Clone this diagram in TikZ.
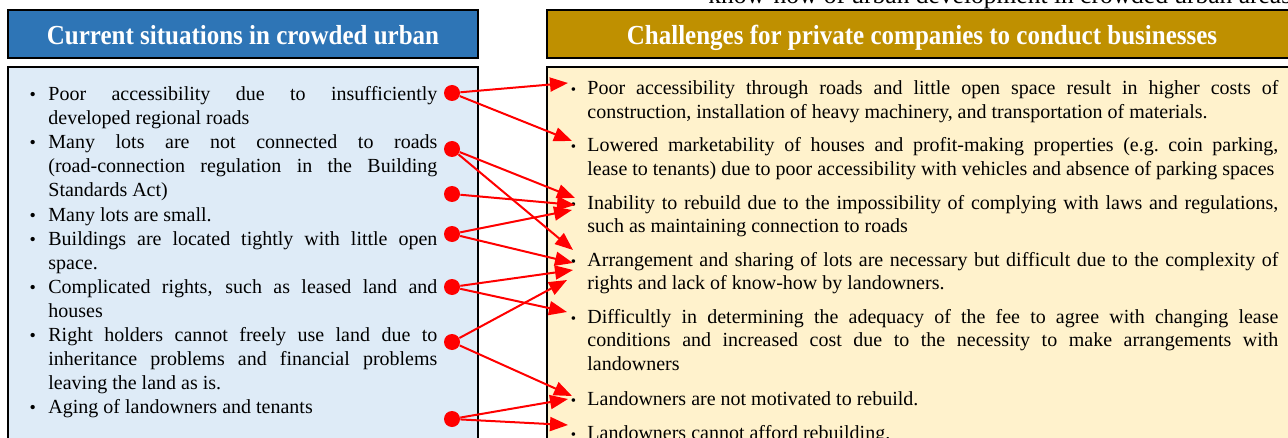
\documentclass[tikz,border=0pt]{standalone}
\usepackage{fontspec}
\setmainfont{Liberation Serif}
\usetikzlibrary{arrows.meta}

\definecolor{headblue}{HTML}{2E75B6}
\definecolor{bodyblue}{HTML}{DEEBF7}
\definecolor{headgold}{HTML}{BF9000}
\definecolor{bodygold}{HTML}{FFF2CC}

\newcommand{\lbul}{\llap{\fontsize{9}{9}\selectfont\textbullet\hspace{6.2pt}}}
\newcommand{\rbul}{\llap{\fontsize{7.5}{7.5}\selectfont\textbullet\hspace{5.6pt}}}

\begin{document}
\begin{tikzpicture}[x=0.5pt, y=-0.5pt,
	headtext/.style={text=white, inner sep=0pt, anchor=base, font=\fontsize{12.5}{14}\selectfont\bfseries},
	leftitem/.style={anchor=base west, inner sep=0pt, text width=194.5pt, align=justify, font=\fontsize{10}{12}\selectfont},
	rightitem/.style={anchor=base west, inner sep=0pt, text width=345.5pt, align=justify, font=\fontsize{10}{11.75}\selectfont},
	reddot/.style={circle, fill=red, inner sep=0pt, minimum size=8pt},
	link/.style={red, line width=1pt, -{Triangle[length=9pt, width=7pt]}}]

	\useasboundingbox (0,0) rectangle (1288,438);
	\clip (0,0) rectangle (1288,438);

	\node [anchor=base west, inner sep=0pt, font=\fontsize{12.75}{14}\selectfont] (toptext) at (708,4) {know-how of urban development in crowded urban areas};

	\draw [line width=1pt, fill=headblue] (8,10) rectangle (478,58);
	\draw [line width=1pt, fill=bodyblue] (8,67) rectangle (478,450);
	\draw [line width=1pt, fill=headgold] (547,10) rectangle (1297,58);
	\draw [line width=1pt, fill=bodygold] (547,67) rectangle (1297,450);

	\node [headtext] (lefthead) at (243,45) {\scalebox{1}[1.1]{Current situations in crowded urban}};
	\node [headtext] (righthead) at (922,45) {\scalebox{1}[1.1]{Challenges for private companies to conduct businesses}};

	\node [leftitem] (s1) at (48,101) {\lbul Poor accessibility due to insufficiently\linebreak developed regional roads};
	\node [leftitem] (s2) at (48,149) {\lbul Many lots are not connected to roads\linebreak (road-connection regulation in the Building\linebreak Standards Act)};
	\node [leftitem] (s3) at (48,221) {\lbul Many lots are small.};
	\node [leftitem] (s4) at (48,245) {\lbul Buildings are located tightly with little open\linebreak space.};
	\node [leftitem] (s5) at (48,293) {\lbul Complicated rights, such as leased land and\linebreak houses};
	\node [leftitem] (s6) at (48,341) {\lbul Right holders cannot freely use land due to\linebreak inheritance problems and financial problems\linebreak leaving the land as is.};
	\node [leftitem] (s7) at (48,413) {\lbul Aging of landowners and tenants};

	\node [rightitem] (c1) at (587,95) {\rbul Poor accessibility through roads and little open space result in higher costs of\linebreak construction, installation of heavy machinery, and transportation of materials.};
	\node [rightitem] (c2) at (587,152) {\rbul Lowered marketability of houses and profit-making properties (e.g.\ coin parking,\linebreak lease to tenants) due to poor accessibility with vehicles and absence of parking spaces};
	\node [rightitem] (c3) at (587,209) {\rbul Inability to rebuild due to the impossibility of complying with laws and regulations,\linebreak such as maintaining connection to roads};
	\node [rightitem] (c4) at (587,266) {\rbul Arrangement and sharing of lots are necessary but difficult due to the complexity of\linebreak rights and lack of know-how by landowners.};
	\node [rightitem] (c5) at (587,323) {\rbul Difficultly in determining the adequacy of the fee to agree with changing lease\linebreak conditions and increased cost due to the necessity to make arrangements with\linebreak landowners};
	\node [rightitem] (c6) at (587,405) {\rbul Landowners are not motivated to rebuild.};
	\node [rightitem] (c7) at (587,439) {\rbul Landowners cannot afford rebuilding.};

	\node [reddot] (d1) at (452,93) {};
	\node [reddot] (d2) at (452,149) {};
	\node [reddot] (d3) at (452,194) {};
	\node [reddot] (d4) at (452,234) {};
	\node [reddot] (d5) at (452,287) {};
	\node [reddot] (d6) at (452,342) {};
	\node [reddot] (d7) at (452,419) {};

	\coordinate (t1) at (568,83);
	\coordinate (t2) at (572,141);
	\coordinate (t3) at (575,198);
	\coordinate (t4) at (575,205);
	\coordinate (t5) at (572,210);
	\coordinate (t6) at (573,250);
	\coordinate (t7) at (573,263);
	\coordinate (t8) at (573,270);
	\coordinate (t9) at (567,280);
	\coordinate (t10) at (567,312);
	\coordinate (t11) at (572,396);
	\coordinate (t12) at (568,399);
	\coordinate (t13) at (568,425);

	\draw [link] (d1) -- (t1);
	\draw [link] (d1) -- (t2);
	\draw [link] (d2) -- (t3);
	\draw [link] (d2) -- (t6);
	\draw [link] (d3) -- (t4);
	\draw [link] (d4) -- (t5);
	\draw [link] (d4) -- (t7);
	\draw [link] (d5) -- (t8);
	\draw [link] (d5) -- (t10);
	\draw [link] (d6) -- (t9);
	\draw [link] (d6) -- (t11);
	\draw [link] (d7) -- (t12);
	\draw [link] (d7) -- (t13);

\end{tikzpicture}
\end{document}
